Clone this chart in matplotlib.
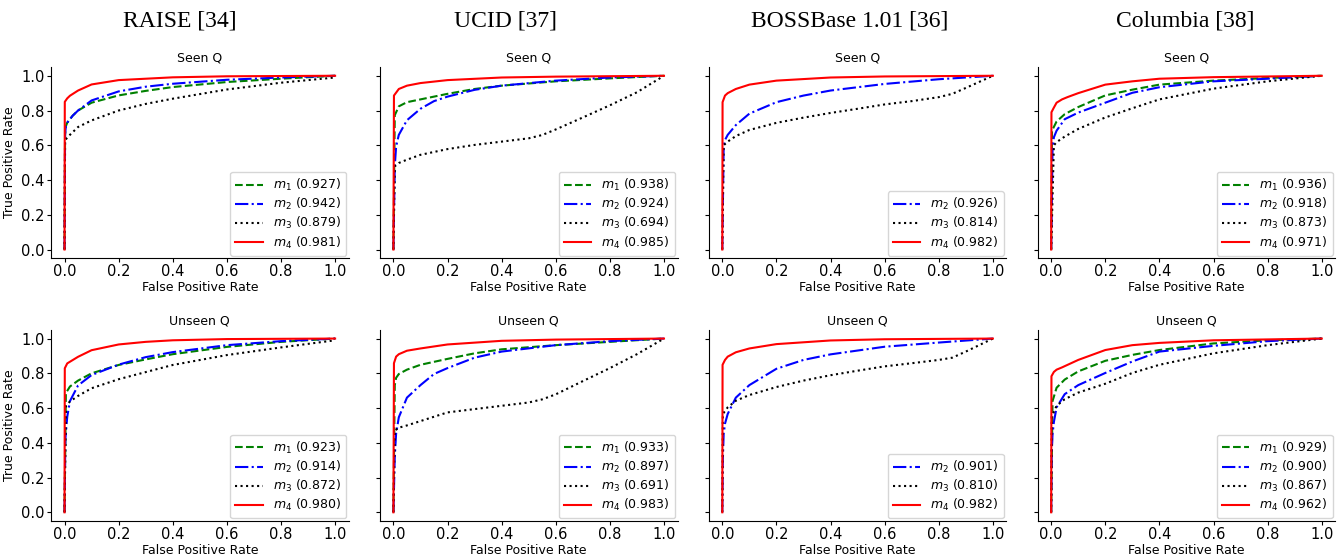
import numpy as np
import matplotlib.pyplot as plt

datasets = ["RAISE [34]", "UCID [37]", "BOSSBase 1.01 [36]", "Columbia [38]"]
rows = ["Seen Q", "Unseen Q"]

# AUC values shown in the legends (None = curve not shown)
auc_seen_m1 = [0.927, 0.938, None, 0.936]
auc_seen_m2 = [0.942, 0.924, 0.926, 0.918]
auc_seen_m3 = [0.879, 0.694, 0.814, 0.873]
auc_seen_m4 = [0.981, 0.985, 0.982, 0.971]
auc_unseen_m1 = [0.923, 0.933, None, 0.929]
auc_unseen_m2 = [0.914, 0.897, 0.901, 0.900]
auc_unseen_m3 = [0.872, 0.691, 0.810, 0.867]
auc_unseen_m4 = [0.980, 0.983, 0.982, 0.962]

# ROC curves, (fpr, tpr)
raise_seen_m1 = [(0, 0), (0.002, 0.66), (0.005, 0.71), (0.01, 0.73), (0.03, 0.77), (0.05, 0.80), (0.1, 0.845),
                 (0.2, 0.887), (0.3, 0.913), (0.4, 0.935), (0.6, 0.964), (0.8, 0.983), (1, 1)]
raise_seen_m2 = [(0, 0), (0.002, 0.66), (0.005, 0.71), (0.01, 0.73), (0.03, 0.77), (0.05, 0.80), (0.1, 0.858),
                 (0.2, 0.91), (0.3, 0.937), (0.4, 0.954), (0.6, 0.977), (0.8, 0.99), (1, 1)]
raise_seen_m3 = [(0, 0), (0.002, 0.63), (0.02, 0.66), (0.05, 0.705), (0.1, 0.743), (0.2, 0.80), (0.3, 0.838),
                 (0.4, 0.868), (0.6, 0.921), (0.8, 0.96), (1, 0.99)]
raise_seen_m4 = [(0, 0), (0.001, 0.85), (0.01, 0.87), (0.02, 0.885), (0.05, 0.915), (0.1, 0.95), (0.2, 0.975),
                 (0.4, 0.991), (0.6, 0.997), (1, 1)]

ucid_seen_m1 = [(0, 0), (0.005, 0.773), (0.02, 0.824), (0.05, 0.848), (0.1, 0.864), (0.2, 0.896), (0.3, 0.924),
                (0.4, 0.943), (0.6, 0.968), (0.8, 0.985), (1, 1)]
ucid_seen_m2 = [(0, 0), (0.005, 0.479), (0.01, 0.593), (0.02, 0.66), (0.05, 0.744), (0.1, 0.81), (0.15, 0.854),
                (0.2, 0.88), (0.3, 0.919), (0.4, 0.943), (0.6, 0.972), (0.8, 0.99), (1, 1)]
ucid_seen_m3 = [(0, 0), (0.005, 0.479), (0.02, 0.498), (0.05, 0.517), (0.1, 0.545), (0.2, 0.578), (0.3, 0.602),
                (0.4, 0.621), (0.5, 0.64), (0.55, 0.659), (0.6, 0.691), (0.7, 0.76), (0.8, 0.83), (0.9, 0.905),
                (1, 1)]
ucid_seen_m4 = [(0, 0), (0.002, 0.886), (0.02, 0.924), (0.05, 0.943), (0.1, 0.958), (0.2, 0.975), (0.4, 0.99),
                (0.6, 0.995), (1, 1)]

boss_seen_m2 = [(0, 0), (0.005, 0.593), (0.01, 0.63), (0.02, 0.66), (0.05, 0.716), (0.1, 0.782), (0.2, 0.848),
                (0.3, 0.886), (0.4, 0.915), (0.6, 0.953), (0.8, 0.98), (1, 1)]
boss_seen_m3 = [(0, 0), (0.005, 0.60), (0.02, 0.621), (0.05, 0.653), (0.1, 0.688), (0.2, 0.729), (0.3, 0.759),
                (0.4, 0.786), (0.5, 0.81), (0.6, 0.835), (0.7, 0.854), (0.8, 0.877), (0.85, 0.896), (0.9, 0.93),
                (1, 1)]
boss_seen_m4 = [(0, 0), (0.001, 0.848), (0.01, 0.886), (0.02, 0.90), (0.05, 0.924), (0.1, 0.949), (0.2, 0.972),
                (0.4, 0.99), (0.6, 0.996), (1, 1)]

col_seen_m1 = [(0, 0), (0.003, 0.684), (0.02, 0.737), (0.05, 0.779), (0.1, 0.82), (0.2, 0.887), (0.3, 0.92),
               (0.4, 0.949), (0.6, 0.972), (0.8, 0.987), (1, 1)]
col_seen_m2 = [(0, 0), (0.005, 0.58), (0.01, 0.646), (0.02, 0.684), (0.05, 0.75), (0.1, 0.788), (0.2, 0.845),
               (0.3, 0.902), (0.4, 0.934), (0.6, 0.968), (0.8, 0.983), (1, 1)]
col_seen_m3 = [(0, 0), (0.01, 0.60), (0.02, 0.618), (0.05, 0.65), (0.1, 0.694), (0.2, 0.76), (0.3, 0.813),
               (0.4, 0.864), (0.6, 0.926), (0.8, 0.968), (1, 1)]
col_seen_m4 = [(0, 0), (0.001, 0.79), (0.01, 0.817), (0.02, 0.845), (0.04, 0.864), (0.06, 0.877), (0.1, 0.90),
               (0.2, 0.949), (0.3, 0.968), (0.4, 0.983), (0.6, 0.992), (1, 1)]

raise_unseen_m1 = [(0, 0), (0.005, 0.686), (0.02, 0.724), (0.05, 0.758), (0.1, 0.80), (0.2, 0.848), (0.3, 0.88),
                   (0.4, 0.91), (0.6, 0.952), (0.8, 0.981), (1, 1)]
raise_unseen_m2 = [(0, 0), (0.003, 0.42), (0.01, 0.55), (0.02, 0.64), (0.05, 0.73), (0.1, 0.79), (0.2, 0.85),
                   (0.3, 0.893), (0.4, 0.922), (0.6, 0.962), (0.8, 0.985), (1, 1)]
raise_unseen_m3 = [(0, 0), (0.005, 0.61), (0.02, 0.638), (0.05, 0.67), (0.1, 0.714), (0.2, 0.766), (0.4, 0.848),
                   (0.6, 0.905), (0.8, 0.949), (1, 0.99)]
raise_unseen_m4 = [(0, 0), (0.001, 0.829), (0.01, 0.857), (0.03, 0.876), (0.05, 0.895), (0.1, 0.933),
                   (0.2, 0.966), (0.3, 0.981), (0.4, 0.99), (0.6, 0.997), (1, 1)]

ucid_unseen_m1 = [(0, 0), (0.005, 0.732), (0.01, 0.774), (0.02, 0.796), (0.05, 0.821), (0.1, 0.849), (0.2, 0.883),
                  (0.3, 0.915), (0.4, 0.938), (0.6, 0.962), (0.8, 0.981), (1, 1)]
ucid_unseen_m2 = [(0, 0), (0.005, 0.32), (0.01, 0.453), (0.02, 0.547), (0.05, 0.66), (0.1, 0.732), (0.15, 0.796),
                  (0.2, 0.83), (0.3, 0.89), (0.4, 0.925), (0.6, 0.962), (0.8, 0.985), (1, 1)]
ucid_unseen_m3 = [(0, 0), (0.005, 0.47), (0.02, 0.487), (0.05, 0.50), (0.1, 0.525), (0.2, 0.575), (0.3, 0.594),
                  (0.4, 0.613), (0.5, 0.632), (0.55, 0.65), (0.6, 0.679), (0.7, 0.755), (0.8, 0.83), (0.9, 0.91),
                  (1, 1)]
ucid_unseen_m4 = [(0, 0), (0.002, 0.858), (0.01, 0.896), (0.02, 0.91), (0.05, 0.93), (0.1, 0.943), (0.2, 0.966),
                  (0.4, 0.987), (0.6, 0.994), (1, 1)]

boss_unseen_m2 = [(0, 0), (0.002, 0.30), (0.005, 0.45), (0.01, 0.51), (0.02, 0.566), (0.05, 0.66), (0.1, 0.732),
                  (0.2, 0.826), (0.3, 0.877), (0.4, 0.909), (0.6, 0.953), (0.8, 0.977), (1, 1)]
boss_unseen_m3 = [(0, 0), (0.002, 0.566), (0.02, 0.604), (0.05, 0.642), (0.1, 0.675), (0.2, 0.721), (0.3, 0.758),
                  (0.4, 0.789), (0.5, 0.815), (0.6, 0.84), (0.7, 0.858), (0.8, 0.877), (0.85, 0.89), (0.9, 0.925),
                  (1, 1)]
boss_unseen_m4 = [(0, 0), (0.001, 0.849), (0.01, 0.877), (0.02, 0.896), (0.05, 0.921), (0.1, 0.943),
                  (0.2, 0.968), (0.4, 0.989), (0.6, 0.996), (1, 1)]

col_unseen_m1 = [(0, 0), (0.005, 0.64), (0.02, 0.717), (0.05, 0.764), (0.1, 0.811), (0.2, 0.872), (0.3, 0.906),
                 (0.4, 0.934), (0.6, 0.972), (0.8, 0.99), (1, 1)]
col_unseen_m2 = [(0, 0), (0.002, 0.35), (0.005, 0.45), (0.01, 0.52), (0.02, 0.604), (0.05, 0.68), (0.1, 0.732),
                 (0.2, 0.802), (0.3, 0.868), (0.4, 0.925), (0.6, 0.958), (0.8, 0.985), (1, 1)]
col_unseen_m3 = [(0, 0), (0.002, 0.55), (0.02, 0.613), (0.05, 0.651), (0.1, 0.689), (0.2, 0.74), (0.3, 0.802),
                 (0.4, 0.849), (0.6, 0.915), (0.8, 0.962), (1, 1)]
col_unseen_m4 = [(0, 0), (0.001, 0.783), (0.01, 0.808), (0.02, 0.821), (0.04, 0.834), (0.1, 0.877), (0.2, 0.934),
                 (0.3, 0.962), (0.4, 0.975), (0.6, 0.99), (1, 1)]

curves = [
    [[raise_seen_m1, raise_seen_m2, raise_seen_m3, raise_seen_m4],
     [ucid_seen_m1, ucid_seen_m2, ucid_seen_m3, ucid_seen_m4],
     [None, boss_seen_m2, boss_seen_m3, boss_seen_m4],
     [col_seen_m1, col_seen_m2, col_seen_m3, col_seen_m4]],
    [[raise_unseen_m1, raise_unseen_m2, raise_unseen_m3, raise_unseen_m4],
     [ucid_unseen_m1, ucid_unseen_m2, ucid_unseen_m3, ucid_unseen_m4],
     [None, boss_unseen_m2, boss_unseen_m3, boss_unseen_m4],
     [col_unseen_m1, col_unseen_m2, col_unseen_m3, col_unseen_m4]],
]
aucs = [
    [auc_seen_m1, auc_seen_m2, auc_seen_m3, auc_seen_m4],
    [auc_unseen_m1, auc_unseen_m2, auc_unseen_m3, auc_unseen_m4],
]

styles = [("green", "--"), ("blue", "-."), ("black", ":"), ("red", "-")]

fig, axes = plt.subplots(2, 4, figsize=(13.42, 5.59), dpi=100, sharey=True)
fig.subplots_adjust(left=0.038, right=0.995, bottom=0.068, top=0.88, wspace=0.105, hspace=0.375)

for r in range(2):
    for c in range(4):
        ax = axes[r, c]
        for m in range(4):
            pts = curves[r][c][m]
            if pts is None:
                continue
            pts = np.array(pts)
            color, ls = styles[m]
            ax.plot(pts[:, 0], pts[:, 1], color=color, linestyle=ls, lw=1.5,
                    label=r"$m_%d$ (%.3f)" % (m + 1, aucs[r][m][c]))
        ax.set_title(rows[r], fontsize=9, pad=4)
        ax.set_xlabel("False Positive Rate", fontsize=9, labelpad=1)
        if c == 0:
            ax.set_ylabel("True Positive Rate", fontsize=9, labelpad=4)
        ax.tick_params(labelsize=10.5, length=3, pad=1.5)
        ax.set_xticks([0, 0.2, 0.4, 0.6, 0.8, 1.0])
        ax.set_yticks([0, 0.2, 0.4, 0.6, 0.8, 1.0])
        ax.spines["top"].set_visible(False)
        ax.spines["right"].set_visible(False)
        ax.legend(loc="lower right", fontsize=9, borderaxespad=0.2, labelspacing=0.25,
                  handlelength=2.2)

title_x = [180, 505, 850, 1185]
for c in range(4):
    fig.text(title_x[c] / 1342, 0.962, datasets[c], ha="center", va="center",
             fontsize=17, family="Liberation Serif")

plt.savefig("out.png")
